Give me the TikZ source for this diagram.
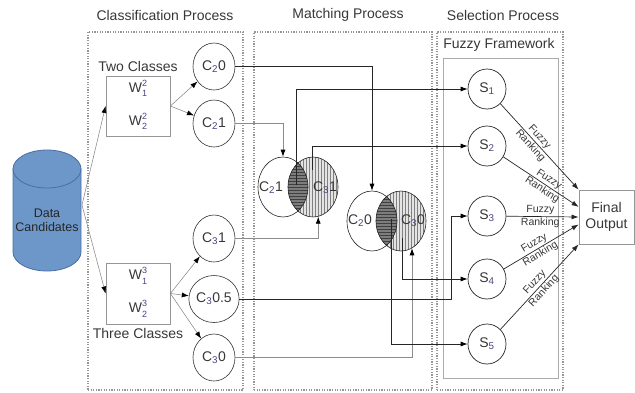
\documentclass[tikz,border=0pt]{standalone}
\usepackage{fontspec}
\setmainfont{Liberation Sans}
\usepackage{tikz}
\usetikzlibrary{shapes.geometric, arrows.meta, positioning, calc, patterns, backgrounds}
\definecolor{dbblue}{RGB}{110,151,201}
\definecolor{dbedge}{RGB}{72,110,165}
\definecolor{txtgray}{RGB}{55,55,55}
\definecolor{boxgray}{RGB}{150,150,150}
\definecolor{subclr}{RGB}{75,65,130}
\definecolor{hatchlight}{RGB}{228,228,228}
\definecolor{hatchdark}{RGB}{125,125,125}
\newcommand{\csub}[1]{\textsubscript{\textcolor{subclr}{#1}}}
\newcommand{\wsym}[2]{W\raisebox{-4.5pt}{\fontsize{9}{10.5}\selectfont\color{subclr}%
  \begin{tabular}[b]{@{}l@{}}#1\\#2\end{tabular}}}
\tikzset{
  procbox/.style={rectangle, draw=boxgray, line width=1.3pt, dash pattern=on 1.2pt off 1.4pt, inner sep=0pt},
  ttl/.style={font=\fontsize{14}{16}\selectfont, inner sep=1pt},
  dbbody/.style={fill=dbblue, draw=dbedge, line width=0.8pt},
  dbtext/.style={align=center, font=\fontsize{12.5}{14}\selectfont, text=black!85, inner sep=1pt},
  wbox/.style={rectangle, draw=boxgray, line width=0.8pt, minimum width=64pt, minimum height=60pt,
    align=center, inner sep=0pt},
  cnode/.style={ellipse, draw=black!80, line width=0.6pt, minimum width=42pt, minimum height=47pt, inner sep=0pt},
  snode/.style={ellipse, draw=black!85, line width=0.7pt, minimum width=38pt, minimum height=40pt, inner sep=0pt},
  vset/.style={ellipse, draw=black!85, line width=0.6pt, minimum width=50pt, minimum height=60pt, inner sep=0pt},
  outbox/.style={rectangle, draw=boxgray, line width=0.8pt, minimum width=55pt, minimum height=54pt,
    align=center, inner sep=0pt},
  arrow/.style={-{Latex[length=7pt, width=5pt, color=black]}, line width=0.5pt, draw=black!50},
  feed/.style={-{Latex[length=7pt, width=5pt, color=black]}, line width=0.7pt, draw=black!85},
  dimfeed/.style={-{Latex[length=7pt, width=5pt, color=black]}, line width=0.7pt, draw=black!45},
  rank/.style={-{Latex[length=7pt, width=5pt]}, line width=0.7pt, draw=black!85},
  fr/.style={font=\fontsize{10.5}{12.5}\selectfont, align=center, inner sep=0.5pt, sloped}
}
\begin{document}
\begin{tikzpicture}[x=1pt, y=-1pt, font=\fontsize{14}{16}\selectfont, text=txtgray]
  \useasboundingbox (0,0) rectangle (635,392);

  % process frames
  \node[procbox, minimum width=155pt, minimum height=358pt] (cls) at (165.5,211) {};
  \node[procbox, minimum width=178pt, minimum height=358pt] (mat) at (343,211) {};
  \node[procbox, minimum width=126pt, minimum height=358pt] (sel) at (500,211) {};
  \node[rectangle, draw=boxgray!80, line width=0.8pt, minimum width=115pt, minimum height=320pt] (fuz) at (500.5,218) {};
  \node[ttl] (tcls) at (165,15) {Classification Process};
  \node[ttl] (tmat) at (348,15) {Matching Process};
  \node[ttl] (tsel) at (503,15) {Selection Process};
  \node[ttl] (tfuz) at (499,45) {Fuzzy Framework};

  % data store
  \draw[dbbody] (13,169) -- (13,252) arc[start angle=180, end angle=0, x radius=34, y radius=19]
    -- (81,169) -- cycle;
  \draw[dbbody] (47,169) ellipse (34 and 19);
  \node[dbtext] (db) at (47,220) {Data\\Candidates};
  \coordinate (dbout) at (82,205);

  % classes
  \node[wbox] (w2) at (138,106) {\wsym{2}{1}\\[11pt]\wsym{2}{2}};
  \node[wbox, minimum height=61pt] (w3) at (138,293.5) {\wsym{3}{1}\\[11pt]\wsym{3}{2}};
  \node[above=0pt of w2] (l2) {Two Classes};
  \node[below=0pt of w3] (l3) {Three Classes};

  \node[cnode] (c20) at (214,66.5) {C\csub{2}0};
  \node[cnode] (c21) at (214,123.5) {C\csub{2}1};
  \node[cnode] (c31) at (214,238.5) {C\csub{3}1};
  \node[cnode] (c305) at (214,299) {C\csub{3}0.5};
  \node[cnode] (c30) at (214,357.5) {C\csub{3}0};

  \draw[arrow] (dbout) -- (w2.west);
  \draw[arrow] (dbout) -- (w3.west);
  \foreach \c in {c20, c21}
    \draw[arrow] (w2.east) -- (\c);
  \foreach \c in {c31, c305, c30}
    \draw[arrow] (w3.east) -- (\c);

  % matching sets
  \node[vset] (v21) at (283,187) {};
  \node[vset] (v31) at (313,187) {};
  \node[vset] (v20) at (372,221) {};
  \node[vset] (v30) at (401,221) {};
  \begin{scope}[on background layer]
    \foreach \l/\r in {v21/v31, v20/v30} {
      \fill[hatchlight] (\r.center) ellipse (25 and 30);
      \fill[pattern=vertical lines, pattern color=gray] (\r.center) ellipse (25 and 30);
      \begin{scope}
        \clip (\l.center) ellipse (25 and 30);
        \fill[hatchdark] (\r.center) ellipse (25 and 30);
        \fill[pattern=horizontal lines, pattern color=black!75] (\r.center) ellipse (25 and 30);
      \end{scope}
    }
  \end{scope}
  \node (t21) at (271,188) {C\csub{2}1};
  \node (t31) at (325,188) {C\csub{3}1};
  \node (t20) at (360,221) {C\csub{2}0};
  \node (t30) at (413,221) {C\csub{3}0};

  % selection nodes
  \node[snode] (s1) at (487,89) {S\csub{1}};
  \node[snode] (s2) at (487,146) {S\csub{2}};
  \node[snode] (s3) at (487,216) {S\csub{3}};
  \node[snode] (s4) at (487,279) {S\csub{4}};
  \node[snode] (s5) at (487,344) {S\csub{5}};
  \node[outbox] (fo) at (606.5,217) {Final\\Output};

  % connectors into the sets
  \draw[feed] (c20) -| (v20.north);
  \draw[dimfeed] (c21) -| (v21.north);
  \draw[dimfeed] (c31) -| (v31.-80);
  \draw[dimfeed] (c30) -| (v30.-68);
  \draw[feed] (c305) -| ([xshift=-36pt]s3.center) -- (s3);

  % connectors out of the sets
  \coordinate (i1) at (296,185);
  \coordinate (r1) at (312,170);
  \coordinate (i2) at (391,219);
  \coordinate (r2) at (402,238);
  \draw[feed] (i1) |- (s1);
  \draw[feed] (r1) |- (s2);
  \draw[feed] (r2) |- (s4);
  \draw[feed] (i2) |- (s5);

  \foreach \s/\a/\p in {s1/north west/0.44, s2/160/0.56, s3/180/0.47, s4/195/0.45, s5/south west/0.5}
    \draw[rank] (\s) -- node[fr, pos=\p] {Fuzzy\\Ranking} (fo.\a);
\end{tikzpicture}
\end{document}
